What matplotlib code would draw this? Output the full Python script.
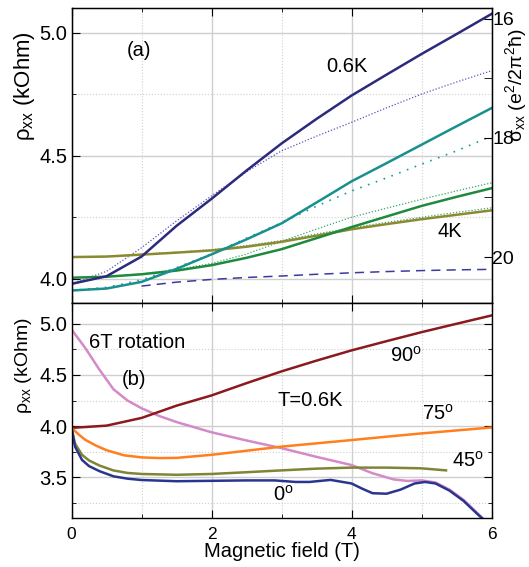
import matplotlib
matplotlib.use("Agg")
import matplotlib.pyplot as plt
from matplotlib.ticker import MultipleLocator, FormatStrFormatter

plt.rcParams["font.family"] = ["Liberation Sans", "DejaVu Sans"]
plt.rcParams["mathtext.fontset"] = "custom"
plt.rcParams["mathtext.rm"] = "Liberation Sans"
plt.rcParams["mathtext.it"] = "Liberation Sans:italic"
plt.rcParams["mathtext.sf"] = "Liberation Sans"

# ---- panel (a): rho_xx vs field at several temperatures ----
field_a = [0, 0.5, 1, 1.5, 2, 2.5, 3, 3.5, 4, 4.5, 5, 5.5, 6]
navy = [3.979, 4.01, 4.09, 4.215, 4.325, 4.44, 4.55, 4.65, 4.745, 4.83, 4.914, 4.995, 5.077]
navy_fit = [3.98, 4.03, 4.126, 4.235, 4.337, 4.435, 4.52, 4.58, 4.636, 4.695, 4.751, 4.80, 4.846]
teal = [3.952, 3.96, 3.987, 4.04, 4.099, 4.16, 4.225, 4.31, 4.396, 4.47, 4.545, 4.62, 4.694]
teal_fit = [3.952, 3.965, 3.995, 4.045, 4.10, 4.165, 4.228, 4.295, 4.357, 4.41, 4.466, 4.52, 4.58]
green = [4.004, 4.008, 4.018, 4.033, 4.055, 4.085, 4.12, 4.165, 4.21, 4.253, 4.296, 4.333, 4.368]
green_fit = [4.004, 4.008, 4.02, 4.037, 4.062, 4.10, 4.152, 4.202, 4.25, 4.287, 4.323, 4.357, 4.39]
olive = [4.088, 4.09, 4.098, 4.106, 4.115, 4.13, 4.15, 4.175, 4.201, 4.222, 4.242, 4.26, 4.278]
olive_fit = [4.088, 4.091, 4.099, 4.108, 4.118, 4.135, 4.155, 4.182, 4.207, 4.229, 4.25, 4.27, 4.288]
field_dash = [1, 1.5, 2, 2.5, 3, 3.5, 4, 4.5, 5, 5.5, 6]
navy_dash = [3.970, 3.986, 3.997, 4.005, 4.011, 4.018, 4.024, 4.029, 4.033, 4.036, 4.038]

# ---- panel (b): 6T rotation, T=0.6K ----
field_90 = [0, 0.5, 1, 1.5, 2, 2.5, 3, 3.5, 4, 4.5, 5, 5.5, 6]
rho_90 = [3.983, 4.005, 4.08, 4.2, 4.30, 4.42, 4.535, 4.64, 4.74, 4.83, 4.918, 5.0, 5.081]
field_75 = [0, 0.1, 0.2, 0.35, 0.5, 0.75, 1, 1.25, 1.5, 2, 2.5, 3, 3.5, 4, 4.5, 5, 5.5, 6]
rho_75 = [3.983, 3.92, 3.865, 3.81, 3.765, 3.715, 3.695, 3.688, 3.69, 3.72, 3.76, 3.80,
          3.832, 3.864, 3.897, 3.929, 3.958, 3.987]
field_45 = [0, 0.05, 0.15, 0.25, 0.4, 0.6, 0.8, 1, 1.5, 2, 2.5, 3, 3.5, 4, 4.5, 5, 5.35]
rho_45 = [3.983, 3.83, 3.72, 3.665, 3.615, 3.567, 3.543, 3.533, 3.525, 3.533, 3.55, 3.568,
          3.585, 3.595, 3.595, 3.588, 3.568]
field_0 = [0, 0.05, 0.15, 0.25, 0.4, 0.6, 0.8, 1, 1.5, 2, 2.5, 2.9, 3.2, 3.4, 3.7, 4.0,
           4.15, 4.3, 4.5, 4.7, 4.9, 5.05, 5.2, 5.4, 5.6, 5.8, 5.9]
rho_0 = [3.983, 3.80, 3.67, 3.61, 3.56, 3.51, 3.487, 3.474, 3.462, 3.466, 3.47, 3.47, 3.455,
         3.455, 3.475, 3.44, 3.39, 3.345, 3.34, 3.38, 3.44, 3.455, 3.44, 3.37, 3.27, 3.14, 3.08]
field_rot = [0, 0.2, 0.4, 0.6, 0.8, 1.0, 1.25, 1.5, 2, 2.5, 3, 3.5, 4, 4.3, 4.6, 4.8, 5.0,
             5.2, 5.4, 5.6, 5.8, 5.9]
rho_rot = [4.945, 4.76, 4.55, 4.36, 4.25, 4.175, 4.10, 4.04, 3.94, 3.86, 3.785, 3.70, 3.62,
           3.54, 3.48, 3.465, 3.47, 3.45, 3.38, 3.28, 3.15, 3.08]

fig = plt.figure(figsize=(5.29, 5.67), dpi=100)
ax1 = fig.add_axes([0.1352, 0.4651, 0.7940, 0.5203])
ax2 = fig.add_axes([0.1352, 0.0859, 0.7940, 0.3792])

grid_col = "#cfcfcf"
for ax in (ax1, ax2):
    ax.set_xlim(0, 6)
    ax.xaxis.set_major_locator(MultipleLocator(2))
    ax.xaxis.set_minor_locator(MultipleLocator(1))
    ax.yaxis.set_major_locator(MultipleLocator(0.5))
    ax.yaxis.set_minor_locator(MultipleLocator(0.25))
    ax.grid(which="major", color=grid_col, lw=1.0, ls="-")
    ax.grid(which="minor", color=grid_col, lw=0.8, ls=":")
    ax.set_axisbelow(True)
    for s in ax.spines.values():
        s.set_linewidth(1.0)

# panel (a)
ax1.plot(field_a, navy_fit, color="#5a55b5", lw=0.9, ls=(0, (1, 1.5)))
ax1.plot(field_a, teal_fit, color="#1f9a9a", lw=1.2, ls=(0, (1, 4)))
ax1.plot(field_a, green_fit, color="#3aa864", lw=0.9, ls=(0, (1, 1.5)))
ax1.plot(field_a, olive_fit, color="#3aa864", lw=0.9, ls=(0, (1, 1.5)))
ax1.plot(field_dash, navy_dash, color="#3a3aa0", lw=1.1, ls=(0, (6, 4)))
ax1.plot(field_a, olive, color="#8c8a30", lw=1.8)
ax1.plot(field_a, green, color="#1e8a3e", lw=1.8)
ax1.plot(field_a, teal, color="#17908e", lw=1.8)
ax1.plot(field_a, navy, color="#2c2a7c", lw=1.8)
ax1.set_ylim(3.9, 5.1)
ax1.tick_params(which="both", direction="in", top=True, bottom=True, left=True, right=False,
                labelbottom=False, labelsize=14.5, pad=3)
ax1.tick_params(which="major", length=6)
ax1.tick_params(which="minor", length=3)
ax1.yaxis.set_major_formatter(FormatStrFormatter("%.1f"))
ax1.set_ylabel(r"ρ$_{\rm xx}$ (kOhm)", fontsize=16)
ax1.yaxis.set_label_coords(-0.083, 0.735)
ax1.text(0.97, 4.93, "(a)", fontsize=14.5, ha="center", va="center")
ax1.text(3.93, 4.865, "0.6K", fontsize=14.5, ha="center", va="center")
ax1.text(5.41, 4.19, "4K", fontsize=14.5, ha="center", va="center")

axr = ax1.twinx()
axr.set_ylim(20.775, 15.827)
axr.yaxis.set_major_locator(MultipleLocator(2))
axr.yaxis.set_minor_locator(MultipleLocator(1))
axr.tick_params(which="both", direction="in", labelsize=14, pad=0.5)
axr.tick_params(which="major", length=6)
axr.tick_params(which="minor", length=6)
axr.set_ylabel(r"σ$_{\rm xx}$ (e$^{\rm 2}$/2π$^{\rm 2}$ħ)", fontsize=14)
axr.yaxis.set_label_coords(1.027, 0.74)

# panel (b)
ax2.plot(field_rot, rho_rot, color="#d48ac8", lw=1.8)
ax2.plot(field_90, rho_90, color="#8a1a1e", lw=1.8)
ax2.plot(field_75, rho_75, color="#ff7f1e", lw=1.8)
ax2.plot(field_45, rho_45, color="#7f8536", lw=1.8)
ax2.plot(field_0, rho_0, color="#2a3590", lw=1.8)
ax2.set_ylim(3.1, 5.2)
ax2.tick_params(which="both", direction="in", top=True, bottom=True, left=True, right=True)
ax2.tick_params(axis="y", labelsize=14.5, pad=3)
ax2.tick_params(axis="x", labelsize=12.5, pad=6)
ax2.tick_params(which="major", length=6)
ax2.tick_params(which="minor", length=3)
ax2.yaxis.set_major_formatter(FormatStrFormatter("%.1f"))
ax2.set_xlabel("Magnetic field (T)", fontsize=14.5, labelpad=0)
ax2.set_ylabel(r"ρ$_{\rm xx}$ (kOhm)", fontsize=14)
ax2.yaxis.set_label_coords(-0.089, 0.71)
ax2.text(0.25, 4.82, "6T rotation", fontsize=14.5, ha="left", va="center")
ax2.text(0.89, 4.46, "(b)", fontsize=14.5, ha="center", va="center")
ax2.text(3.41, 4.25, "T=0.6K", fontsize=14.5, ha="center", va="center")
ax2.text(4.77, 4.69, r"90$^{\rm o}$", fontsize=14.5, ha="center", va="center")
ax2.text(5.24, 4.12, r"75$^{\rm o}$", fontsize=14.5, ha="center", va="center")
ax2.text(5.66, 3.66, r"45$^{\rm o}$", fontsize=14.5, ha="center", va="center")
ax2.text(3.02, 3.33, r"0$^{\rm o}$", fontsize=14.5, ha="center", va="center")

fig.savefig("out.png", dpi=100)
